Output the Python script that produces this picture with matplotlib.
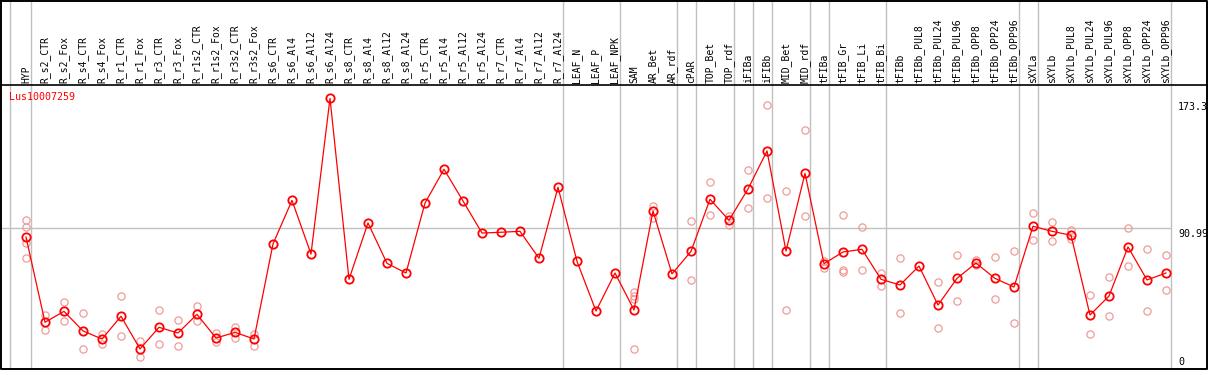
import matplotlib
matplotlib.use("Agg")
import matplotlib.pyplot as plt
from matplotlib import transforms

# sample names (columns), left to right
samples = ["HYP", "R_s2_CTR", "R_s2_Fox", "R_s4_CTR", "R_s4_Fox", "R_r1_CTR", "R_r1_Fox",
           "R_r3_CTR", "R_r3_Fox", "R_r1s2_CTR", "R_r1s2_Fox", "R_r3s2_CTR", "R_r3s2_Fox",
           "R_s6_CTR", "R_s6_Al4", "R_s6_Al12", "R_s6_Al24", "R_s8_CTR", "R_s8_Al4",
           "R_s8_Al12", "R_s8_Al24", "R_r5_CTR", "R_r5_Al4", "R_r5_Al12", "R_r5_Al24",
           "R_r7_CTR", "R_r7_Al4", "R_r7_Al12", "R_r7_Al24", "LEAF_N", "LEAF_P", "LEAF_NPK",
           "SAM", "AR_Bet", "AR_rdf", "cPAR", "TOP_Bet", "TOP_rdf", "iFIBa", "iFIBb",
           "MID_Bet", "MID_rdf", "tFIBa", "tFIB_Gr", "tFIB_Li", "tFIB_Bi", "tFIBb",
           "tFIBb_PUL8", "tFIBb_PUL24", "tFIBb_PUL96", "tFIBb_OPP8", "tFIBb_OPP24",
           "tFIBb_OPP96", "sXYLa", "sXYLb", "sXYLb_PUL8", "sXYLb_PUL24", "sXYLb_PUL96",
           "sXYLb_OPP8", "sXYLb_OPP24", "sXYLb_OPP96"]

# mean expression per sample
means = [85.5, 31.5, 38.4, 26.0, 20.9, 35.3, 14.6, 28.3, 24.7, 36.5, 21.5, 25.1, 20.9,
         81.1, 108.7, 74.7, 173.3, 58.7, 94.4, 68.8, 62.7, 107.0, 128.4, 108.3, 88.0,
         88.5, 89.1, 72.0, 117.0, 70.1, 38.6, 62.7,
         39.3, 102.0, 62.1, 76.4, 109.4, 96.1, 115.9, 140.0,
         76.6, 125.8, 68.6, 76.0, 77.7, 58.7, 55.1,
         67.1, 42.4, 59.3, 69.0, 59.3,
         53.8, 92.3, 89.1, 86.6, 36.1, 48.1,
         79.2, 58.3, 62.7]

# single replicates per sample (empty where only one sample)
replicates = [
    [96.3, 91.8, 81.9, 72.0],
    [36.1, 26.6], [44.1, 32.1], [37.4, 14.6], [23.9, 17.7],
    [47.9, 22.6], [19.6, 9.3], [39.3, 17.5], [32.7, 16.3],
    [41.8, 32.1], [24.9, 18.8], [28.5, 21.7], [24.3, 16.7],
    [], [], [], [], [], [], [], [], [], [], [], [], [], [], [], [], [], [], [],
    [50.5, 48.3, 46.0, 14.6], [105.3, 97.7], [], [95.6, 58.1], [120.1, 99.2],
    [99.0, 93.3], [127.9, 103.7], [169.1, 110.0],
    [114.6, 39.3], [153.1, 98.8], [70.1, 65.9], [99.4, 64.8, 63.3], [91.8, 64.4],
    [62.7, 54.3], [72.2, 37.4],
    [], [56.8, 27.9], [74.1, 45.0], [71.1, 67.6], [72.8, 46.2],
    [76.4, 31.0], [100.5, 83.6], [94.8, 82.8], [90.1, 84.0], [48.8, 23.9], [60.2, 35.3],
    [91.2, 66.9], [77.9, 38.6], [74.1, 51.9],
]

# last column index of each tissue group (grey separators)
group_ends = [0, 28, 31, 34, 35, 37, 38, 39, 41, 42, 45, 52, 53, 60]
gene = "Lus10007259"
y_labels = ["173.3", "90.99", "0"]
ref_level = 90.99

W, H = 1209, 370
X0, DX = 26, 19          # pixel of first column, pixel step
Y0, SY = 372, 1.579      # pixel row of value 0, pixels per unit
GREY = "#c0c0c0"
FONT = "DejaVu Sans Mono"

fig = plt.figure(figsize=(W / 100, H / 100), dpi=100)
ax = fig.add_axes([0, 0, 1, 1])
ax.set_xlim(-X0 / DX, (W - X0) / DX)
ax.set_ylim((Y0 - H) / SY, Y0 / SY)
ax.axis("off")

pix = fig.add_axes([0, 0, 1, 1], zorder=5)
pix.set_xlim(0, W)
pix.set_ylim(H, 0)
pix.axis("off")
pix.patch.set_visible(False)

# grey separators
ax.axvline((10 - X0) / DX, color=GREY, lw=1, zorder=0)
for g in group_ends:
    ax.axvline(g + 0.25, color=GREY, lw=1, zorder=0)
ax.hlines(ref_level, (1 - X0) / DX, len(samples) - 1 + 0.25, color=GREY, lw=1, zorder=0)

# replicates
xs = list(range(len(samples)))
for i, r in enumerate(replicates):
    if r:
        ax.plot([i] * len(r), r, "o", ms=5.2, mfc="none", mec="#f09a9a", mew=0.9, zorder=2)

# mean line
ax.plot(xs, means, "-", color="red", lw=0.9, zorder=3)
ax.plot(xs, means, "o", ms=6.0, mfc="none", mec="red", mew=1.3, zorder=4)

# frame
pix.plot([1, W - 2, W - 2, 1, 1], [0.5, 0.5, 369, 369, 0.5], color="black", lw=1.4)
pix.plot([1, W - 2], [85, 85], color="black", lw=1.2)

# column labels
tr = transforms.blended_transform_factory(ax.transData, pix.transData)
for i, s in enumerate(samples):
    ax.text(i, 83, s, transform=tr, rotation=90, ha="center", va="bottom",
            fontsize=7, family=FONT, color="black")

# title and right-hand scale
pix.text(9, 92, gene, ha="left", va="top", fontsize=7.2, family=FONT, color="red")
for lab, yp in zip(y_labels, [102, 229, 357]):
    pix.text(1178, yp, lab, ha="left", va="top", fontsize=7.2, family=FONT, color="black")

fig.savefig("out.png", dpi=100)
